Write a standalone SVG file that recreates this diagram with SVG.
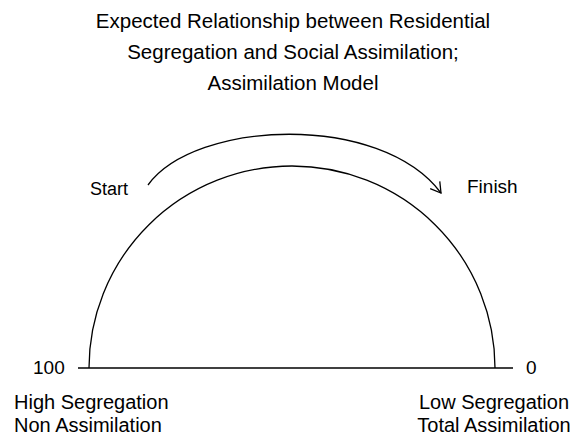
<svg xmlns="http://www.w3.org/2000/svg" width="578" height="441" viewBox="0 0 578 441">
<style>
text{font-family:"Liberation Sans",Arial,sans-serif;fill:#000}
.t{font-size:20.5px;text-anchor:middle}
.l{font-size:20px}
.r{font-size:20px;text-anchor:middle}
.ln{fill:none;stroke:#000;stroke-width:1.3}
</style>
<defs>
<marker id="ah" markerWidth="14" markerHeight="14" refX="12" refY="7" orient="auto" markerUnits="userSpaceOnUse">
<path d="M2,1 L12,7 L2,13" fill="none" stroke="#000" stroke-width="1.3"/>
</marker>
</defs>
<rect width="578" height="441" fill="#fff"/>
<g id="title">
<text class="t" x="293" y="28">Expected Relationship between Residential</text>
<text class="t" x="293" y="59">Segregation and Social Assimilation;</text>
<text class="t" x="293" y="90">Assimilation Model</text>
</g>
<g id="connectors">
<path id="arrow" class="ln" d="M148,185 C195,120 380,112 441,193" marker-end="url(#ah)"/>
<path id="arch" class="ln" d="M89,368 A203,202 0 0 1 495,368"/>
<line id="axis" class="ln" x1="78" y1="368" x2="513" y2="368"/>
</g>
<g id="start"><text x="90" y="195" style="font-size:18px">Start</text></g>
<g id="finish"><text x="467" y="193" style="font-size:19px">Finish</text></g>
<g id="v100"><text x="33" y="374" style="font-size:19px">100</text></g>
<g id="v0"><text x="526" y="374" style="font-size:19px">0</text></g>
<g id="left">
<text class="l" x="14" y="409">High Segregation</text>
<text class="l" x="14" y="432">Non Assimilation</text>
</g>
<g id="right">
<text class="r" x="494" y="409">Low Segregation</text>
<text class="r" x="494" y="432">Total Assimilation</text>
</g>
</svg>
